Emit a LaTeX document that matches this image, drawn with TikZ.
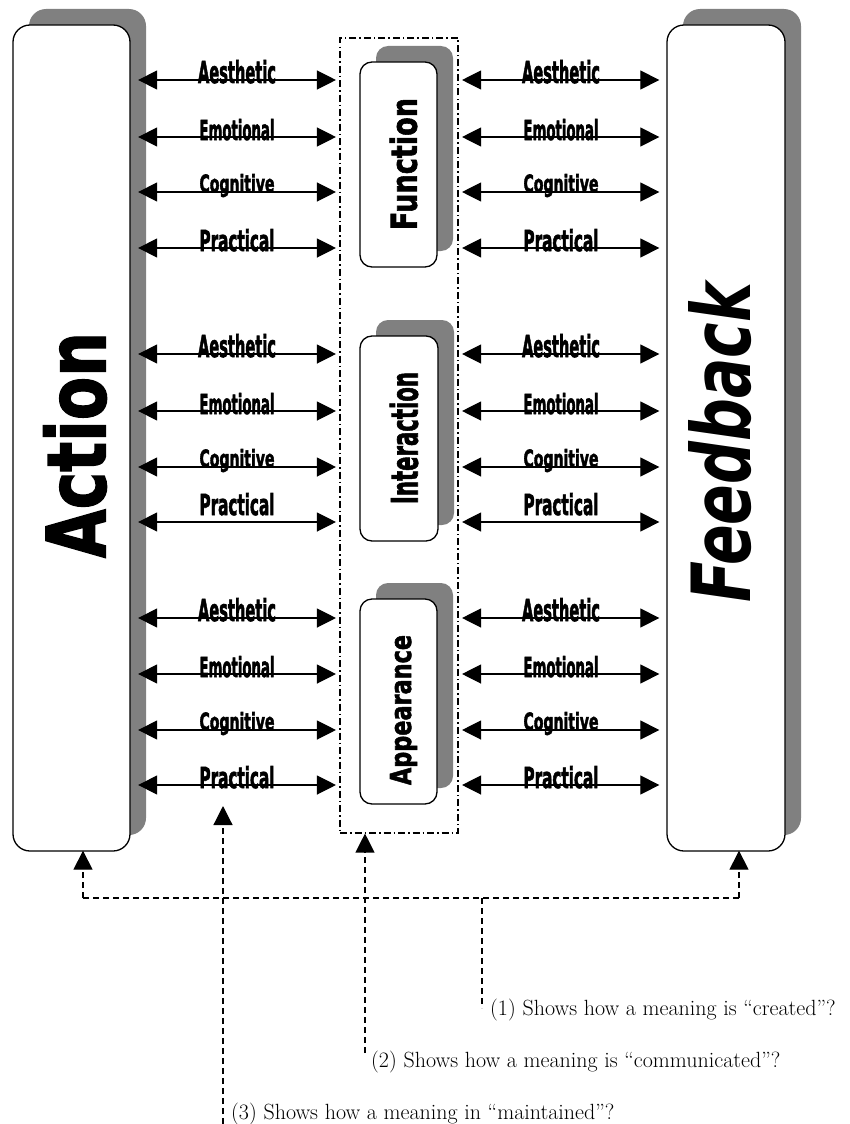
\documentclass[tikz,border=0pt]{standalone}
\usepackage{fontspec}
\usepackage{graphicx}
\usetikzlibrary{arrows.meta,shadows}
\newfontfamily\labfont[BoldFeatures={FakeBold=2.5}]{DejaVu Sans}
\newfontfamily\bigfont[BoldFeatures={FakeBold=2}]{DejaVu Sans}
\newcommand{\lab}[3]{\resizebox{#2pt}{#3pt}{\labfont\bfseries #1}}
\begin{document}
\begin{tikzpicture}[x=1pt,y=-1pt,
  mainbox/.style={draw, line width=1.3pt, fill=white, rounded corners=#1, inner sep=0pt,
    drop shadow={shadow xshift=16pt, shadow yshift=16pt, fill=black!50, opacity=1}},
  biarr/.style={{Triangle[length=19pt,width=19pt]}-{Triangle[length=19pt,width=19pt]}, line width=1.2pt},
  uparr/.style={-{Triangle[length=19pt,width=19pt]}, line width=1.2pt, dash pattern=on 6pt off 4pt},
  dline/.style={line width=1.2pt, dash pattern=on 6pt off 4pt},
  panelbox/.style={draw, line width=1.1pt, dash pattern=on 7pt off 3pt on 1.5pt off 3pt, inner sep=0pt},
  lbl/.style={anchor=base, inner sep=0pt},
  vtext/.style={rotate=90, inner sep=0pt},
  captext/.style={anchor=base west, inner sep=0pt, font=\fontsize{22}{22}\selectfont}
]
\useasboundingbox (0,0) rectangle (850,1124);

% main boxes
\node[mainbox=17pt, minimum width=117pt, minimum height=826pt] (action) at (71.5,438) {};
\node[mainbox=17pt, minimum width=118pt, minimum height=826pt] (feedback) at (726,438) {};
\node[panelbox, minimum width=118pt, minimum height=795pt] (panel) at (399,435.5) {};

\node[mainbox=12pt, minimum width=77pt, minimum height=205pt] (function) at (398.5,164.5) {};
\node[mainbox=12pt, minimum width=78pt, minimum height=205pt] (interaction) at (399,438.5) {};
\node[mainbox=12pt, minimum width=77pt, minimum height=205pt] (appearance) at (398.5,701.5) {};

% big texts
\node[vtext] (actiontxt) at (75,445) {\resizebox{226pt}{62pt}{\bigfont\bfseries Action}};
\node[vtext] (feedbacktxt) at (720,442.5) {\resizebox{319pt}{62pt}{\bigfont\bfseries\itshape Feedback}};
\node[vtext] (functiontxt) at (403.5,164) {\resizebox{132pt}{27pt}{\bigfont\bfseries Function}};
\node[vtext] (interactiontxt) at (404,438) {\resizebox{132pt}{28pt}{\bigfont\bfseries Interaction}};
\node[vtext] (appearancetxt) at (403.5,710) {\resizebox*{150pt}{27pt}{\bigfont\bfseries Appearance}};

% arrows and labels
\foreach \y/\t/\w/\h/\d [count=\i] in {
  80/Aesthetic/78/23/3, 137/Emotional/75/21/3, 192/Cognitive/75/18/0, 248/Practical/75/22/3,
  354/Aesthetic/78/23/3, 411/Emotional/75/21/3, 467/Cognitive/75/18/0, 522/Practical/75/22/-7,
  618/Aesthetic/78/23/3, 674/Emotional/75/21/3, 730/Cognitive/75/18/0, 785/Practical/75/22/3}{
  \draw[biarr, shorten <=7.5pt, shorten >=3.5pt] (action.east |- 0,\y) -- (panel.west |- 0,\y);
  \node[lbl] (ll\i) at (237,\y+\d) {\lab{\t}{\w}{\h}};
  \draw[biarr, shorten <=3.5pt, shorten >=7pt] (panel.east |- 0,\y) -- (feedback.west |- 0,\y);
  \node[lbl] (rl\i) at (561,\y+\d) {\lab{\t}{\w}{\h}};
}

% captions
\node[captext] (cap1) at (490,1015) {(1) Shows how a meaning is “created”?};
\node[captext] (cap2) at (371,1067) {(2) Shows how a meaning is “communicated”?};
\node[captext] (cap3) at (231,1119) {(3) Shows how a meaning in “maintained”?};

% dashed connectors
\coordinate (jl) at (83,898);
\coordinate (jr) at (739,898);
\coordinate (j1) at (482,898);
\coordinate (e1) at (482,1008);
\coordinate (e2) at (365,1053);
\coordinate (b3) at (223,1124);
\coordinate (t3) at (223,806);
\draw[dline] (jl) -- (jr);
\draw[uparr, shorten >=-1pt] (jl) -- (jl |- action.south);
\draw[uparr, shorten >=-1pt] (jr) -- (jr |- feedback.south);
\draw[dline] (j1) -- (e1);
\draw[uparr] (e2) -- (e2 |- panel.south);
\draw[uparr] (b3) -- (t3);
\end{tikzpicture}
\end{document}
